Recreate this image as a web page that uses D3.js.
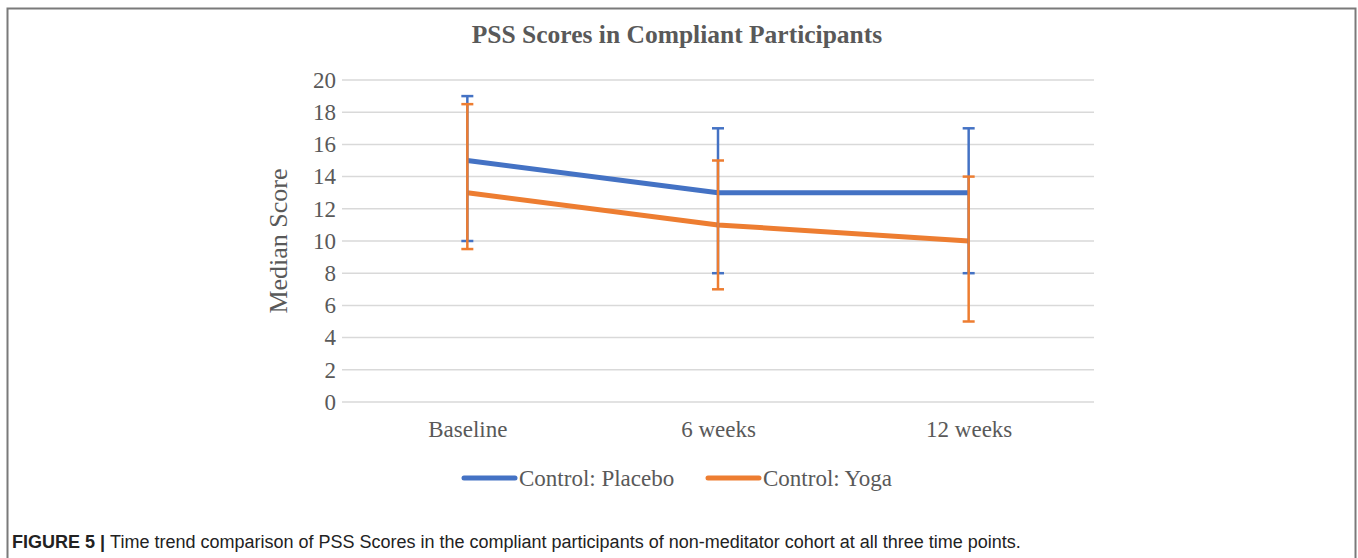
<!DOCTYPE html>
<html>
<head>
<meta charset="utf-8">
<script src="https://cdn.jsdelivr.net/npm/d3@7"></script>
<style>
  html, body { margin: 0; padding: 0; background: #fff; }
  svg { display: block; }
</style>
</head>
<body>
<script>
const wdth = 1358;
const hght = 558;

const categories = ["Baseline", "6 weeks", "12 weeks"];
const yTicks = [0, 2, 4, 6, 8, 10, 12, 14, 16, 18, 20];
const seriesNames = ["Control: Placebo", "Control: Yoga"];
const placeboMedian = [15, 13, 13];
const placeboLow = [10, 8, 8];
const placeboHigh = [19, 17, 17];
const yogaMedian = [13, 11, 10];
const yogaLow = [9.5, 7, 5];
const yogaHigh = [18.5, 15, 14];

const colors = ["#4472C4", "#ED7D31"];
const textColor = "#595959";
const serif = "'Liberation Serif', 'Times New Roman', serif";

const series = [
  { name: seriesNames[0], median: placeboMedian, low: placeboLow, high: placeboHigh, color: colors[0] },
  { name: seriesNames[1], median: yogaMedian, low: yogaLow, high: yogaHigh, color: colors[1] }
];

const plot = { left: 342, right: 1094, top: 80, bottom: 402 };

const svg = d3.select("body")
  .append("svg")
  .attr("width", wdth)
  .attr("height", hght);

// frame round the figure
svg.append("rect")
  .attr("x", 7.5)
  .attr("y", 8.5)
  .attr("width", 1348)
  .attr("height", 600)
  .attr("fill", "none")
  .attr("stroke", "#7a7a7a")
  .attr("stroke-width", 2);

const x = d3.scalePoint()
  .domain(categories)
  .range([plot.left, plot.right])
  .padding(0.5);

const y = d3.scaleLinear()
  .domain([0, 20])
  .range([plot.bottom, plot.top]);

// gridlines
svg.append("g")
  .selectAll("line")
  .data(yTicks)
  .enter()
  .append("line")
  .attr("x1", plot.left)
  .attr("x2", plot.right)
  .attr("y1", d => y(d))
  .attr("y2", d => y(d))
  .attr("stroke", "#d9d9d9")
  .attr("stroke-width", 1.5);

// y axis labels
const yAxis = svg.append("g")
  .attr("transform", "translate(" + (plot.left - 6) + ",0)")
  .call(d3.axisLeft(y).tickValues(yTicks).tickSize(0).tickPadding(0));
yAxis.select(".domain").remove();
yAxis.selectAll("text")
  .attr("font-family", serif)
  .attr("font-size", "23px")
  .attr("fill", textColor);

// x axis labels
const xAxis = svg.append("g")
  .attr("transform", "translate(0," + plot.bottom + ")")
  .call(d3.axisBottom(x).tickSize(0).tickPadding(19));
xAxis.select(".domain").remove();
xAxis.selectAll("text")
  .attr("font-family", serif)
  .attr("font-size", "23px")
  .attr("fill", textColor);

// title
svg.append("text")
  .text("PSS Scores in Compliant Participants")
  .attr("x", 677)
  .attr("y", 43)
  .attr("text-anchor", "middle")
  .attr("font-family", serif)
  .attr("font-size", "25.5px")
  .attr("font-weight", "bold")
  .attr("fill", textColor);

// y axis title
svg.append("text")
  .text("Median Score")
  .attr("transform", "translate(287," + ((plot.top + plot.bottom) / 2) + ") rotate(-90)")
  .attr("text-anchor", "middle")
  .attr("font-family", serif)
  .attr("font-size", "26px")
  .attr("fill", textColor);

const line = d3.line()
  .x((d, i) => x(categories[i]))
  .y(d => y(d));

// lines
series.forEach(s => {
  svg.append("path")
    .datum(s.median)
    .attr("d", line)
    .attr("fill", "none")
    .attr("stroke", s.color)
    .attr("stroke-width", 5)
    .attr("stroke-linejoin", "round");
});

// error bars drawn over the lines
series.forEach(s => {
  const g = svg.append("g");
  const bars = categories.map((c, i) => ({ c: c, low: s.low[i], high: s.high[i] }));
  g.selectAll("line.stem")
    .data(bars)
    .enter()
    .append("line")
    .attr("class", "stem")
    .attr("x1", d => x(d.c))
    .attr("x2", d => x(d.c))
    .attr("y1", d => y(d.low))
    .attr("y2", d => y(d.high))
    .attr("stroke", s.color)
    .attr("stroke-width", 2.5);
  ["low", "high"].forEach(k => {
    g.selectAll("line.cap-" + k)
      .data(bars)
      .enter()
      .append("line")
      .attr("class", "cap-" + k)
      .attr("x1", d => x(d.c) - 6)
      .attr("x2", d => x(d.c) + 6)
      .attr("y1", d => y(d[k]))
      .attr("y2", d => y(d[k]))
      .attr("stroke", s.color)
      .attr("stroke-width", 2.5);
  });
});

// legend
const legend = svg.append("g").attr("id", "legend");
const legendX = [464, 708];
series.forEach((s, i) => {
  legend.append("line")
    .attr("x1", legendX[i])
    .attr("x2", legendX[i] + 51)
    .attr("y1", 478)
    .attr("y2", 478)
    .attr("stroke", s.color)
    .attr("stroke-width", 5)
    .attr("stroke-linecap", "round");
  legend.append("text")
    .text(s.name)
    .attr("x", legendX[i] + 55)
    .attr("y", 486)
    .attr("font-family", serif)
    .attr("font-size", "23px")
    .attr("fill", textColor);
});

// caption
const caption = svg.append("text")
  .attr("x", 12)
  .attr("y", 548)
  .attr("font-family", "'Liberation Sans Narrow', 'Liberation Sans', Arial, sans-serif")
  .attr("font-size", "18px")
  .attr("fill", "#222");
caption.append("tspan")
  .attr("font-weight", "bold")
  .text("FIGURE 5 | ");
caption.append("tspan")
  .text("Time trend comparison of PSS Scores in the compliant participants of non-meditator cohort at all three time points.");
</script>
</body>
</html>
